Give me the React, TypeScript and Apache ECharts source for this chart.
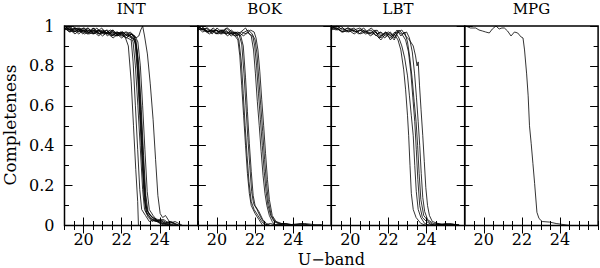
import React, { useEffect, useRef } from "react";
import * as echarts from "echarts";

const PANELS = ["INT", "BOK", "LBT", "MPG"];
const X_MAJOR = [20, 22, 24];
const X_MIN = 19;
const X_MAX = 26;

const INT_CURVES: number[][][] = [
  [[19.0,0.99],[19.25,0.98],[19.5,0.99],[19.75,0.97],[20.0,0.98],[20.25,0.96],[20.5,0.98],[20.75,0.97],[21.0,0.95],[21.25,0.97],[21.5,0.96],[21.75,0.95],[22.0,0.96],[22.2,0.94],[22.35,0.9],[22.5,0.72],[22.62,0.5],[22.74,0.28],[22.84,0.12],[22.88,0.0],[23.2,0.0]],
  [[19.0,1.0],[19.3,0.99],[19.55,0.97],[19.8,0.99],[20.05,0.97],[20.3,0.98],[20.55,0.96],[20.8,0.98],[21.05,0.96],[21.3,0.97],[21.55,0.95],[21.8,0.97],[22.05,0.95],[22.3,0.94],[22.5,0.93],[22.6,0.82],[22.72,0.6],[22.84,0.38],[22.95,0.18],[23.05,0.08],[23.25,0.05],[23.45,0.02],[23.7,0.03],[24.0,0.01],[24.3,0.0]],
  [[19.0,0.98],[19.2,1.0],[19.45,0.98],[19.7,0.99],[19.95,0.96],[20.2,0.98],[20.45,0.97],[20.7,0.99],[20.95,0.96],[21.2,0.98],[21.45,0.95],[21.7,0.97],[21.95,0.96],[22.2,0.97],[22.45,0.95],[22.6,0.92],[22.72,0.8],[22.85,0.6],[22.97,0.4],[23.1,0.18],[23.2,0.08],[23.4,0.04],[23.6,0.02],[23.8,0.03],[24.1,0.01],[24.5,0.0]],
  [[19.0,1.0],[19.25,0.98],[19.5,0.97],[19.75,0.99],[20.0,0.97],[20.25,0.99],[20.5,0.96],[20.75,0.97],[21.0,0.98],[21.25,0.95],[21.5,0.97],[21.75,0.96],[22.0,0.94],[22.25,0.96],[22.5,0.95],[22.7,0.92],[22.82,0.78],[22.95,0.55],[23.07,0.32],[23.18,0.14],[23.28,0.07],[23.5,0.04],[23.75,0.02],[24.0,0.03],[24.3,0.01],[24.7,0.0]],
  [[19.0,0.99],[19.3,0.97],[19.55,0.99],[19.8,0.98],[20.05,0.96],[20.3,0.97],[20.55,0.99],[20.8,0.96],[21.05,0.97],[21.3,0.96],[21.55,0.98],[21.8,0.95],[22.05,0.97],[22.3,0.95],[22.55,0.96],[22.75,0.9],[22.88,0.72],[23.0,0.5],[23.12,0.27],[23.22,0.12],[23.32,0.06],[23.55,0.03],[23.85,0.02],[24.2,0.01],[24.6,0.0]],
  [[19.0,0.99],[19.2,0.98],[19.45,1.0],[19.7,0.97],[19.95,0.98],[20.2,0.96],[20.45,0.98],[20.7,0.97],[20.95,0.99],[21.2,0.96],[21.45,0.97],[21.7,0.95],[21.95,0.97],[22.2,0.95],[22.45,0.97],[22.65,0.95],[22.8,0.88],[22.92,0.68],[23.05,0.45],[23.17,0.22],[23.27,0.1],[23.4,0.06],[23.65,0.04],[23.9,0.02],[24.2,0.01],[24.5,0.02],[24.9,0.0]],
  [[19.0,0.98],[19.25,0.99],[19.5,0.97],[19.75,0.98],[20.0,0.99],[20.25,0.97],[20.5,0.96],[20.75,0.98],[21.0,0.97],[21.25,0.96],[21.5,0.98],[21.75,0.96],[22.0,0.95],[22.25,0.97],[22.5,0.96],[22.7,0.94],[22.85,0.84],[22.98,0.63],[23.1,0.4],[23.22,0.18],[23.32,0.08],[23.5,0.05],[23.8,0.02],[24.1,0.03],[24.4,0.01],[24.9,0.0]],
  [[19.0,1.0],[19.3,0.98],[19.55,0.96],[19.8,0.98],[20.05,0.99],[20.3,0.96],[20.55,0.97],[20.8,0.95],[21.05,0.98],[21.3,0.96],[21.55,0.94],[21.8,0.96],[22.05,0.97],[22.3,0.95],[22.55,0.94],[22.75,0.93],[22.9,0.8],[23.03,0.58],[23.15,0.35],[23.27,0.15],[23.38,0.07],[23.6,0.04],[23.9,0.03],[24.3,0.01],[24.6,0.02],[25.0,0.0]],
  [[19.0,0.99],[19.25,0.97],[19.5,0.98],[19.75,0.96],[20.0,0.98],[20.25,0.97],[20.5,0.99],[20.75,0.96],[21.0,0.97],[21.25,0.98],[21.5,0.95],[21.75,0.97],[22.0,0.96],[22.25,0.94],[22.5,0.96],[22.7,0.95],[22.85,0.92],[22.98,0.8],[23.1,0.6],[23.22,0.38],[23.34,0.17],[23.45,0.08],[23.65,0.05],[23.9,0.02],[24.2,0.03],[24.5,0.01],[24.8,0.02],[25.2,0.0]],
  [[19.0,1.0],[19.3,0.98],[19.6,0.99],[19.9,0.97],[20.2,0.99],[20.5,0.97],[20.8,0.98],[21.1,0.96],[21.4,0.98],[21.7,0.96],[22.0,0.97],[22.3,0.95],[22.55,0.96],[22.75,0.94],[22.9,0.95],[23.0,0.98],[23.1,1.0],[23.2,0.95],[23.35,0.86],[23.5,0.71],[23.65,0.53],[23.78,0.33],[23.9,0.15],[24.02,0.06],[24.15,0.04],[24.3,0.05],[24.5,0.02],[24.75,0.01],[25.1,0.0]],
];

const BOK_CURVES: number[][][] = [
  [[19.0,0.99],[19.25,0.98],[19.5,0.99],[19.75,0.97],[20.0,0.98],[20.25,0.96],[20.5,0.97],[20.75,0.96],[20.95,0.95],[21.1,0.93],[21.2,0.85],[21.3,0.7],[21.4,0.55],[21.5,0.4],[21.6,0.26],[21.7,0.16],[21.8,0.1],[22.0,0.06],[22.2,0.03],[22.4,0.0],[22.8,0.01],[23.2,0.0]],
  [[19.0,1.0],[19.3,0.98],[19.55,0.97],[19.8,0.99],[20.05,0.97],[20.3,0.98],[20.55,0.95],[20.8,0.97],[21.0,0.96],[21.15,0.93],[21.28,0.82],[21.38,0.66],[21.48,0.5],[21.58,0.35],[21.68,0.22],[21.8,0.12],[21.95,0.08],[22.15,0.05],[22.35,0.02],[22.55,0.0],[23.0,0.0]],
  [[19.0,0.99],[19.2,1.0],[19.45,0.97],[19.7,0.98],[19.95,0.96],[20.2,0.98],[20.45,0.96],[20.7,0.97],[20.95,0.95],[21.15,0.96],[21.3,0.91],[21.42,0.76],[21.52,0.6],[21.62,0.44],[21.72,0.3],[21.82,0.17],[21.92,0.11],[22.1,0.08],[22.3,0.04],[22.5,0.01],[22.7,0.0],[23.4,0.0]],
  [[19.0,0.98],[19.25,0.99],[19.5,0.97],[19.75,0.98],[20.0,0.96],[20.25,0.98],[20.5,0.97],[20.75,0.95],[21.0,0.97],[21.25,0.95],[21.38,0.9],[21.5,0.74],[21.6,0.57],[21.7,0.41],[21.8,0.27],[21.9,0.15],[22.0,0.1],[22.2,0.07],[22.4,0.03],[22.6,0.01],[22.8,0.0],[23.5,0.01],[24.0,0.0]],
  [[19.0,1.0],[19.3,0.98],[19.6,0.96],[19.9,0.98],[20.2,0.97],[20.5,0.99],[20.8,0.96],[21.1,0.97],[21.4,0.95],[21.6,0.97],[21.8,0.95],[21.92,0.88],[22.02,0.76],[22.12,0.62],[22.22,0.5],[22.32,0.37],[22.42,0.25],[22.52,0.16],[22.62,0.1],[22.75,0.05],[22.9,0.02],[23.05,0.0],[23.6,0.01],[24.2,0.0]],
  [[19.0,0.99],[19.25,0.97],[19.5,0.98],[19.75,0.96],[20.0,0.99],[20.25,0.97],[20.5,0.96],[20.75,0.98],[21.0,0.96],[21.25,0.97],[21.5,0.99],[21.7,0.96],[21.88,0.95],[21.98,0.9],[22.08,0.8],[22.18,0.66],[22.28,0.53],[22.38,0.4],[22.48,0.27],[22.58,0.17],[22.68,0.1],[22.82,0.05],[23.0,0.02],[23.2,0.01],[23.6,0.0],[24.5,0.005],[25.0,0.0]],
  [[19.0,1.0],[19.2,0.98],[19.45,0.99],[19.7,0.97],[19.95,0.98],[20.2,0.96],[20.45,0.98],[20.7,0.96],[20.95,0.97],[21.2,0.95],[21.45,0.97],[21.65,0.98],[21.85,0.96],[22.0,0.93],[22.1,0.86],[22.2,0.73],[22.3,0.6],[22.4,0.47],[22.5,0.33],[22.6,0.21],[22.7,0.12],[22.85,0.05],[23.05,0.02],[23.3,0.01],[23.8,0.0],[24.6,0.01],[25.5,0.0]],
  [[19.0,0.98],[19.3,0.99],[19.55,0.97],[19.8,0.98],[20.05,0.96],[20.3,0.97],[20.55,0.99],[20.8,0.97],[21.05,0.95],[21.3,0.97],[21.55,0.96],[21.75,0.98],[21.95,0.97],[22.05,0.94],[22.15,0.88],[22.25,0.77],[22.35,0.63],[22.45,0.5],[22.55,0.36],[22.65,0.23],[22.75,0.13],[22.9,0.05],[23.1,0.02],[23.4,0.01],[23.9,0.005],[24.4,0.01],[25.0,0.0],[25.5,0.005]],
];

const LBT_CURVES: number[][][] = [
  [[19.0,0.99],[19.3,1.0],[19.6,0.98],[19.9,0.99],[20.2,0.97],[20.5,0.98],[20.8,0.96],[21.1,0.97],[21.4,0.95],[21.6,0.93],[21.85,0.96],[22.1,0.94],[22.3,0.96],[22.5,0.93],[22.65,0.88],[22.8,0.78],[22.9,0.68],[23.0,0.55],[23.06,0.45],[23.13,0.3],[23.2,0.16],[23.3,0.08],[23.45,0.04],[23.7,0.01],[24.0,0.0],[24.6,0.01],[25.2,0.0]],
  [[19.0,1.0],[19.25,0.99],[19.55,0.97],[19.85,0.99],[20.15,0.98],[20.45,0.96],[20.75,0.98],[21.05,0.95],[21.35,0.97],[21.6,0.94],[21.85,0.97],[22.1,0.95],[22.35,0.97],[22.55,0.94],[22.7,0.9],[22.85,0.84],[23.0,0.75],[23.1,0.65],[23.2,0.55],[23.3,0.45],[23.38,0.3],[23.46,0.17],[23.56,0.08],[23.7,0.04],[23.9,0.01],[24.2,0.0],[25.0,0.005],[25.6,0.0]],
  [[19.0,0.98],[19.3,0.99],[19.6,0.97],[19.9,0.98],[20.2,0.99],[20.5,0.96],[20.8,0.97],[21.1,0.98],[21.35,0.95],[21.55,0.97],[21.8,0.94],[22.05,0.96],[22.3,0.93],[22.5,0.97],[22.7,0.96],[22.9,0.93],[23.05,0.87],[23.17,0.77],[23.28,0.64],[23.38,0.52],[23.46,0.38],[23.54,0.23],[23.64,0.1],[23.78,0.04],[24.0,0.02],[24.3,0.0],[25.3,0.01],[25.7,0.0]],
  [[19.0,0.99],[19.25,0.98],[19.5,1.0],[19.8,0.97],[20.1,0.98],[20.4,0.97],[20.7,0.99],[21.0,0.96],[21.3,0.98],[21.5,0.94],[21.75,0.96],[22.0,0.97],[22.25,0.95],[22.45,0.98],[22.65,0.95],[22.85,0.97],[23.0,0.92],[23.12,0.84],[23.24,0.74],[23.35,0.62],[23.45,0.52],[23.53,0.4],[23.61,0.26],[23.7,0.13],[23.85,0.05],[24.1,0.02],[24.4,0.0],[25.0,0.01],[25.7,0.0]],
  [[19.0,1.0],[19.3,0.98],[19.6,0.99],[19.9,0.97],[20.2,0.98],[20.5,0.99],[20.8,0.97],[21.1,0.96],[21.4,0.98],[21.6,0.95],[21.85,0.97],[22.1,0.93],[22.35,0.96],[22.55,0.98],[22.75,0.96],[22.95,0.97],[23.1,0.94],[23.25,0.87],[23.37,0.76],[23.47,0.64],[23.56,0.52],[23.64,0.4],[23.72,0.26],[23.8,0.14],[23.9,0.07],[24.05,0.03],[24.35,0.01],[24.8,0.0],[25.4,0.005],[25.8,0.0]],
  [[19.0,0.99],[19.3,0.99],[19.6,0.97],[19.9,0.98],[20.2,0.96],[20.5,0.98],[20.8,0.97],[21.1,0.99],[21.4,0.96],[21.6,0.97],[21.85,0.95],[22.1,0.97],[22.3,0.94],[22.5,0.97],[22.7,0.98],[22.9,0.95],[23.1,0.93],[23.3,0.9],[23.42,0.85],[23.5,0.8],[23.56,0.82],[23.63,0.7],[23.71,0.58],[23.8,0.45],[23.88,0.32],[23.96,0.19],[24.05,0.1],[24.15,0.05],[24.3,0.02],[24.6,0.01],[25.0,0.0],[25.7,0.005]],
];

const MPG_CURVES: number[][][] = [
  [[19.05,1.0],[19.3,0.99],[19.58,0.99],[19.75,0.98],[19.93,0.975],[20.1,0.97],[20.29,0.965],[20.45,0.985],[20.64,1.0],[20.81,0.985],[20.95,0.99],[21.08,0.99],[21.25,0.975],[21.43,0.95],[21.61,0.97],[21.78,0.965],[21.96,0.945],[22.06,0.94],[22.14,0.88],[22.25,0.76],[22.33,0.65],[22.4,0.5],[22.49,0.41],[22.58,0.31],[22.67,0.21],[22.79,0.066],[22.9,0.035],[23.07,0.02],[23.46,0.017],[23.8,0.01],[24.16,0.005],[24.52,0.0]],
];

const ALL_CURVES = [INT_CURVES, BOK_CURVES, LBT_CURVES, MPG_CURVES];

const FONT = "'DejaVu Serif', 'Liberation Serif', serif";
const GRID_LEFT0 = 64.5;
const GRID_W = 133.4;
const GRID_TOP = 26;
const GRID_H = 199.5;

function buildOption() {
  const grid: any[] = [];
  const xAxis: any[] = [];
  const yAxis: any[] = [];
  const series: any[] = [];
  const graphic: any[] = [];

  PANELS.forEach((name, i) => {
    const left = GRID_LEFT0 + i * GRID_W;
    grid.push({
      left,
      top: GRID_TOP,
      width: GRID_W,
      height: GRID_H,
      show: true,
      borderColor: "#000",
      borderWidth: 1.5,
      backgroundColor: "transparent",
    });
    const baseX = {
      type: "value",
      gridIndex: i,
      min: X_MIN,
      max: X_MAX,
      splitLine: { show: false },
      axisLine: { show: false },
    };
    const tickStyle = { color: "#000", width: 1 };
    xAxis.push({
      ...baseX,
      position: "bottom",
      interval: 0.5,
      axisTick: { show: true, inside: true, length: 4.5, lineStyle: tickStyle },
      axisLabel: { show: true, customValues: X_MAJOR, margin: 6, color: "#000", fontFamily: FONT, fontSize: 16 },
    });
    xAxis.push({
      ...baseX,
      position: "bottom",
      axisTick: { show: true, inside: true, length: 8, customValues: X_MAJOR, lineStyle: tickStyle },
      axisLabel: { show: false },
    });
    xAxis.push({
      ...baseX,
      position: "top",
      interval: 0.5,
      axisTick: { show: true, inside: true, length: 4.5, lineStyle: tickStyle },
      axisLabel: { show: false },
    });
    xAxis.push({
      ...baseX,
      position: "top",
      axisTick: { show: true, inside: true, length: 8, customValues: X_MAJOR, lineStyle: tickStyle },
      axisLabel: { show: false },
    });
    const baseY = {
      type: "value",
      gridIndex: i,
      min: 0,
      max: 1,
      splitLine: { show: false },
      axisLine: { show: false },
    };
    yAxis.push({
      ...baseY,
      position: "left",
      interval: 0.1,
      axisTick: { show: true, inside: true, length: 4.5, lineStyle: tickStyle },
      axisLabel: { show: false },
    });
    yAxis.push({
      ...baseY,
      position: "left",
      interval: 0.2,
      axisTick: { show: true, inside: true, length: 8, lineStyle: tickStyle },
      axisLabel: { show: i === 0, margin: 10, color: "#000", fontFamily: FONT, fontSize: 16 },
    });
    yAxis.push({
      ...baseY,
      position: "right",
      interval: 0.1,
      axisTick: { show: true, inside: true, length: 4.5, lineStyle: tickStyle },
      axisLabel: { show: false },
    });
    yAxis.push({
      ...baseY,
      position: "right",
      interval: 0.2,
      axisTick: { show: true, inside: true, length: 8, lineStyle: tickStyle },
      axisLabel: { show: false },
    });

    ALL_CURVES[i].forEach((curve) => {
      series.push({
        type: "line",
        xAxisIndex: i * 4,
        yAxisIndex: i * 4,
        data: curve,
        showSymbol: false,
        symbol: "none",
        silent: true,
        lineStyle: { color: "#000", width: 0.8 },
      });
    });

    graphic.push({
      type: "text",
      x: left + GRID_W / 2,
      y: 9,
      style: { text: name, align: "center", verticalAlign: "middle", fontFamily: FONT, fontSize: 15, fill: "#000" },
    });
  });

  graphic.push({
    type: "text",
    x: GRID_LEFT0 + 2 * GRID_W,
    y: 259.5,
    style: { text: "U\u2212band", align: "center", verticalAlign: "middle", fontFamily: FONT, fontSize: 16, fill: "#000" },
  });
  graphic.push({
    type: "text",
    x: 10,
    y: 125,
    rotation: Math.PI / 2,
    style: { text: "Completeness", align: "center", verticalAlign: "middle", fontFamily: FONT, fontSize: 17, fill: "#000" },
  });

  return {
    animation: false,
    backgroundColor: "#fff",
    grid,
    xAxis,
    yAxis,
    series,
    graphic,
  };
}

export default function App() {
  const ref = useRef<HTMLDivElement>(null);
  useEffect(() => {
    if (!ref.current) return;
    const chart = echarts.init(ref.current, undefined, { renderer: "svg" });
    chart.setOption(buildOption() as any);
    return () => chart.dispose();
  }, []);
  return (
    <div
      ref={ref}
      style={{ position: "fixed", left: 0, top: 0, width: 600, height: 268, background: "#fff" }}
    />
  );
}
